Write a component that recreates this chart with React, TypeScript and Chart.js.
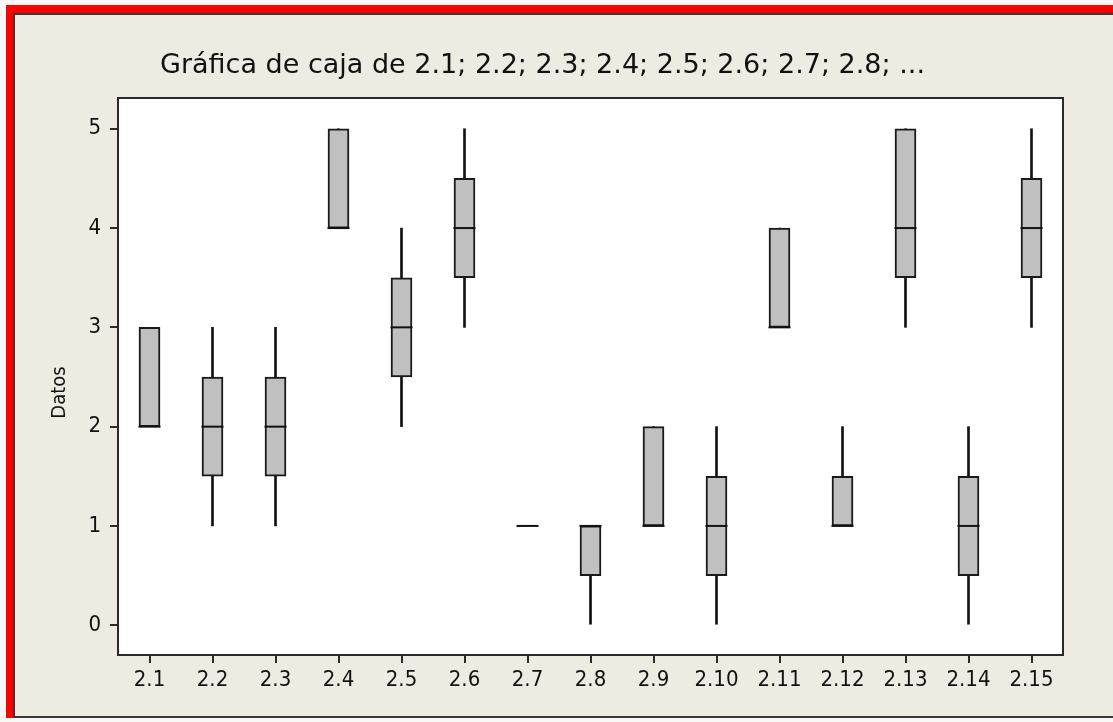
import React, { useEffect, useRef } from 'react';
import { Chart, registerables } from 'chart.js';

Chart.register(...registerables);

const categories = ['2.1', '2.2', '2.3', '2.4', '2.5', '2.6', '2.7', '2.8', '2.9', '2.10', '2.11', '2.12', '2.13', '2.14', '2.15'];
const q1Values = [2, 1.5, 1.5, 4, 2.5, 3.5, 1, 0.5, 1, 0.5, 3, 1, 3.5, 0.5, 3.5];
const q3Values = [3, 2.5, 2.5, 5, 3.5, 4.5, 1, 1, 2, 1.5, 4, 1.5, 5, 1.5, 4.5];
const medianValues = [2, 2, 2, 4, 3, 4, 1, 1, 1, 1, 3, 1, 4, 1, 4];
const minValues = [2, 1, 1, 4, 2, 3, 1, 0, 1, 0, 3, 1, 3, 0, 3];
const maxValues = [3, 3, 3, 5, 4, 5, 1, 1, 2, 2, 4, 2, 5, 2, 5];
const yTicks = [0, 1, 2, 3, 4, 5];
const chartTitle = 'Gráfica de caja de 2.1; 2.2; 2.3; 2.4; 2.5; 2.6; 2.7; 2.8; ...';
const yAxisTitle = 'Datos';

const FONT = 'DejaVu Sans';
const TICK_FONT = '"DejaVu Sans Condensed", "DejaVu Sans"';

const plotFrame = {
  id: 'plotFrame',
  beforeDraw(chart: any) {
    const { ctx, chartArea } = chart;
    ctx.save();
    ctx.fillStyle = '#ffffff';
    ctx.fillRect(chartArea.left, chartArea.top, chartArea.right - chartArea.left, chartArea.bottom - chartArea.top);
    ctx.restore();
  },
  afterDraw(chart: any) {
    const { ctx, chartArea } = chart;
    ctx.save();
    ctx.strokeStyle = '#2a2a2a';
    ctx.lineWidth = 2;
    ctx.strokeRect(chartArea.left, chartArea.top, chartArea.right - chartArea.left, chartArea.bottom - chartArea.top);
    ctx.fillStyle = '#111111';
    ctx.font = `20px ${TICK_FONT}`;
    ctx.textAlign = 'center';
    ctx.textBaseline = 'middle';
    ctx.translate(chartArea.left - 58, (chartArea.top + chartArea.bottom) / 2 + 16);
    ctx.rotate(-Math.PI / 2);
    ctx.fillText(yAxisTitle, 0, 0);
    ctx.restore();
  },
};

export default function App() {
  const canvasRef = useRef<HTMLCanvasElement | null>(null);

  useEffect(() => {
    if (!canvasRef.current) return;
    const gridOpts = {
      display: true,
      offset: false,
      drawOnChartArea: false,
      drawTicks: true,
      tickLength: 8,
      color: '#2a2a2a',
      lineWidth: 2,
    };
    const chart = new Chart(canvasRef.current, {
      type: 'bar',
      data: {
        labels: categories,
        datasets: [
          {
            type: 'line',
            label: 'Mediana',
            data: medianValues,
            showLine: false,
            pointStyle: 'line',
            pointRadius: 11,
            pointBorderWidth: 2,
            borderColor: '#111111',
            backgroundColor: '#111111',
          } as any,
          {
            type: 'bar',
            label: 'Caja',
            data: q1Values.map((q, i) => [q, q3Values[i]]),
            backgroundColor: '#C0C0C0',
            borderColor: '#1a1a1a',
            borderWidth: 2,
            borderSkipped: false,
            barThickness: 21,
            grouped: false,
          } as any,
          {
            type: 'bar',
            label: 'Bigotes',
            data: minValues.map((m, i) => [m, maxValues[i]]),
            backgroundColor: '#111111',
            borderWidth: 0,
            barThickness: 2,
            grouped: false,
          } as any,
        ],
      },
      options: {
        animation: false,
        responsive: false,
        events: [],
        layout: { padding: { left: 22, right: 50, top: 0, bottom: 0 } },
        plugins: {
          legend: { display: false },
          tooltip: { enabled: false },
          title: {
            display: true,
            text: chartTitle,
            color: '#111111',
            font: { family: FONT, size: 27, weight: 'normal' },
            padding: { top: 50, bottom: 15.6 },
          },
        },
        scales: {
          x: {
            type: 'category',
            offset: true,
            grid: gridOpts,
            border: { display: false },
            ticks: {
              color: '#111111',
              font: { family: TICK_FONT, size: 22 },
              padding: 4,
              maxRotation: 0,
              autoSkip: false,
            },
            afterFit: (s: any) => {
              s.height = 67;
            },
          },
          y: {
            type: 'linear',
            min: -0.3,
            max: 5.31,
            grid: gridOpts,
            border: { display: false },
            afterBuildTicks: (s: any) => {
              s.ticks = yTicks.map((v) => ({ value: v }));
            },
            ticks: {
              color: '#111111',
              font: { family: TICK_FONT, size: 22 },
              padding: 9,
            },
            afterFit: (s: any) => {
              s.width = 96;
            },
          },
        },
      } as any,
      plugins: [plotFrame],
    });
    return () => chart.destroy();
  }, []);

  return (
    <div style={{ position: 'absolute', left: 0, top: 0, width: 1113, height: 722, background: '#fbf7f5', overflow: 'hidden' }}>
      <div
        style={{
          position: 'absolute',
          left: 6,
          top: 5,
          width: 1107,
          height: 713,
          boxSizing: 'border-box',
          borderLeft: '7px solid #ff0000',
          borderTop: '8px solid #ff0000',
        }}
      >
        <div
          style={{
            position: 'absolute',
            left: 0,
            top: 0,
            right: 0,
            bottom: 0,
            boxSizing: 'border-box',
            borderLeft: '2px solid #3a3a3a',
            borderTop: '2px solid #3a3a3a',
            borderBottom: '2px solid #3a3a3a',
            background: '#EEEBE2',
          }}
        />
      </div>
      <canvas
        ref={canvasRef}
        width={1113}
        height={722}
        style={{ position: 'absolute', left: 0, top: 0, width: 1113, height: 722, display: 'block' }}
      />
    </div>
  );
}
